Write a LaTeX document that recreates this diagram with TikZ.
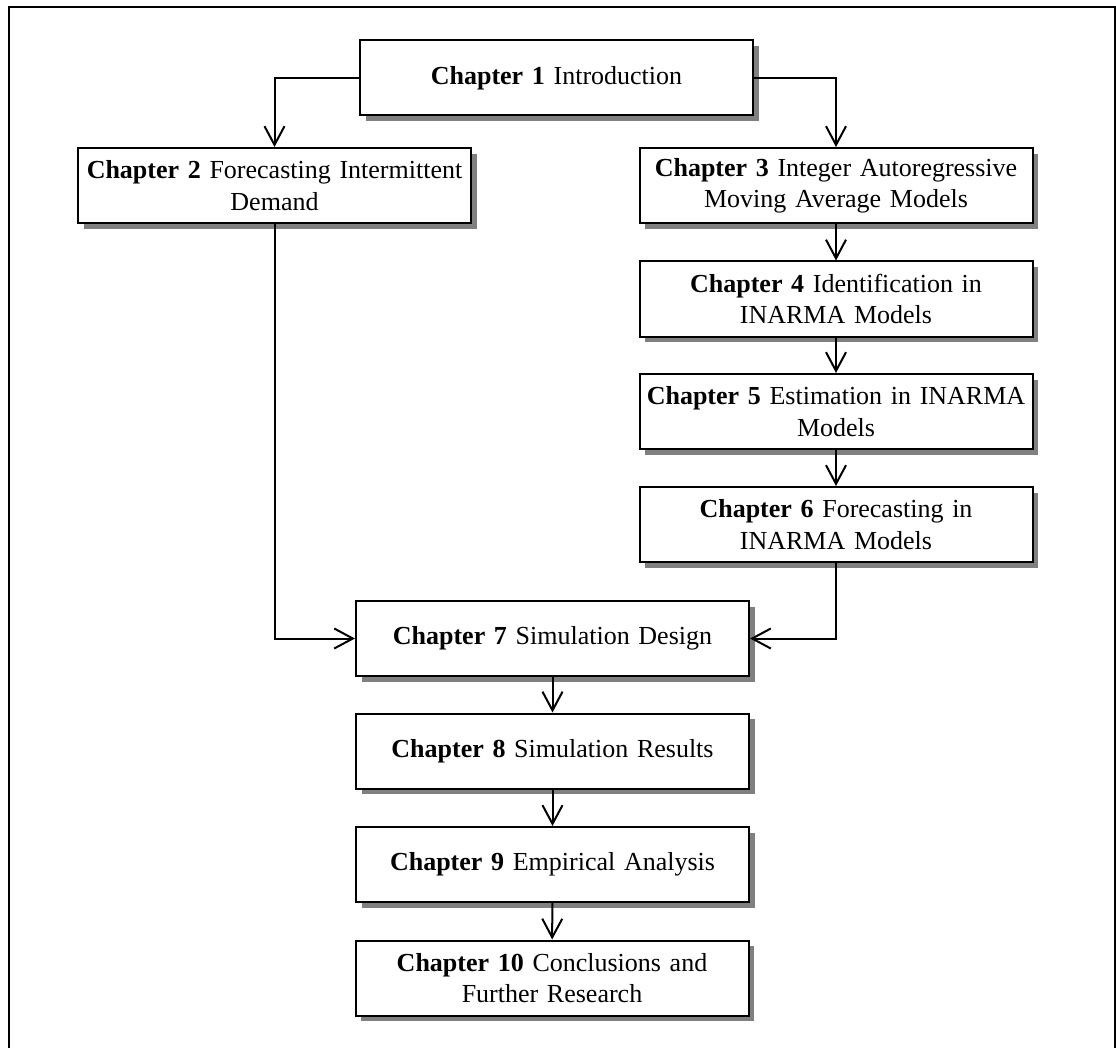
\documentclass[tikz,border=0pt]{standalone}
\usepackage{fontspec}
\setmainfont{Liberation Serif}
\usetikzlibrary{arrows.meta,shadows}
\begin{document}
\begin{tikzpicture}[x=0.75pt,y=-0.75pt,
  chapbox/.style={draw=black, line width=1.5pt, fill=white,
    minimum width=294.75pt, minimum height=56.25pt,
    text width=288pt, align=center, inner sep=0pt,
    font=\fontsize{19.5}{23.5}\selectfont,
    drop shadow={shadow xshift=4.2pt, shadow yshift=-4.2pt, fill=black!50, opacity=1}},
  link/.style={line width=1.5pt, -{Straight Barb[length=14pt,width=15pt,line width=1.5pt]}}
]
\useasboundingbox (0,0) rectangle (1116,1048);
% outer frame (its lower edge lies below the page)
\draw[line width=1.8pt] (9,1060) -- (9,7) -- (1115,7) -- (1115,1060);

\node[chapbox] (c1) at (556.5,78) {\textbf{Chapter 1} Introduction};
\node[chapbox] (c2) at (274.5,185.5) {\textbf{Chapter 2} Forecasting Intermittent\\Demand};
\node[chapbox] (c3) at (836,185.5) {\textbf{Chapter 3} Integer Autoregressive\\Moving Average Models};
\node[chapbox] (c4) at (836,299) {\textbf{Chapter 4} Identification in\\INARMA Models};
\node[chapbox] (c5) at (836,411.5) {\textbf{Chapter 5} Estimation in INARMA\\Models};
\node[chapbox] (c6) at (836,524.5) {\textbf{Chapter 6} Forecasting in\\INARMA Models};
\node[chapbox] (c7) at (552.5,638.5) {\textbf{Chapter 7} Simulation Design};
\node[chapbox] (c8) at (552.5,751) {\textbf{Chapter 8} Simulation Results};
\node[chapbox] (c9) at (552.5,864.5) {\textbf{Chapter 9} Empirical Analysis};
\node[chapbox] (c10) at (552,978) {\textbf{Chapter 10} Conclusions and\\Further Research};

\draw[link] (c1.west) -| (c2.north);
\draw[link] (c1.east) -| (c3.north);
\draw[link] (c3) -- (c4);
\draw[link] (c4) -- (c5);
\draw[link] (c5) -- (c6);
\draw[link] (c2.south) |- (c7.west);
\draw[link] (c6.south) |- (c7.east);
\draw[link] (c7) -- (c8);
\draw[link] (c8) -- (c9);
\draw[link] (c9) -- (c10);
\end{tikzpicture}
\end{document}
